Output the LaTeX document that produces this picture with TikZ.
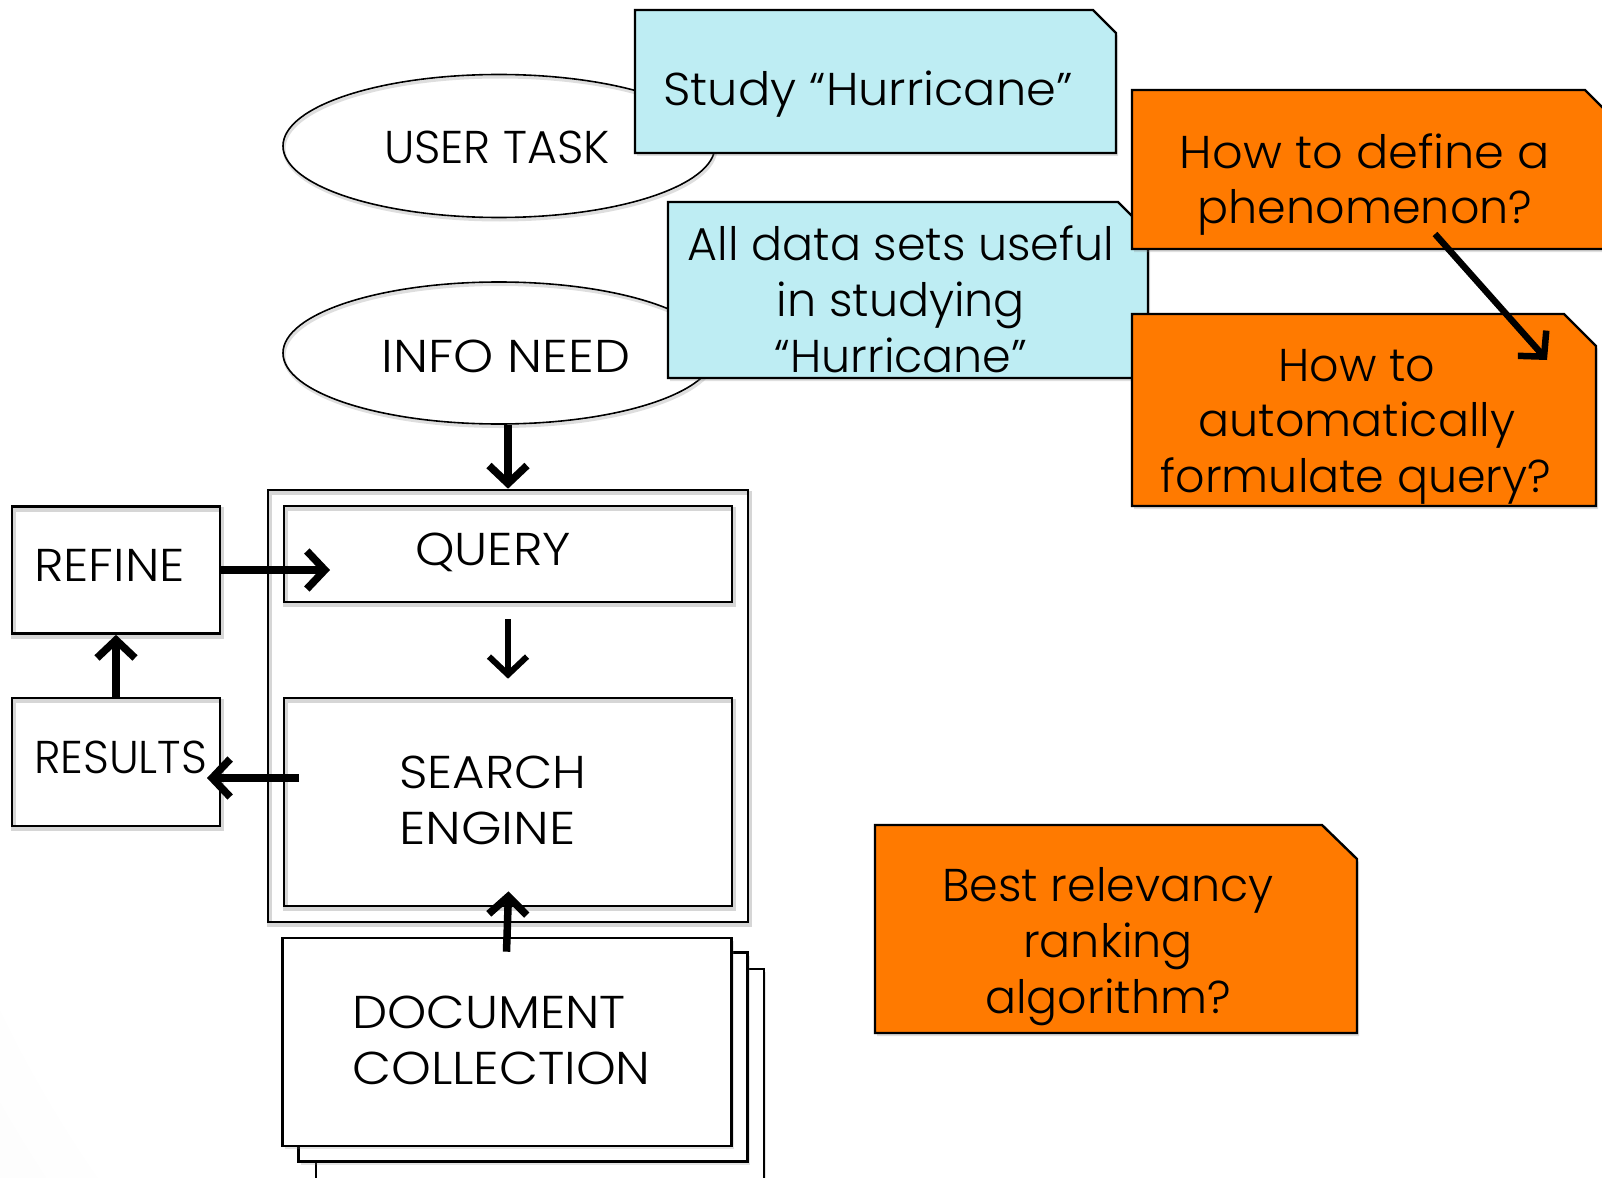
\documentclass[tikz,border=0pt]{standalone}
\usepackage{fontspec}
\IfFontExistsTF{Poppins Light}{\setmainfont{Poppins Light}}{\setmainfont{Poppins}}
\usetikzlibrary{shapes.geometric,arrows.meta,shadows}

\definecolor{noteblue}{RGB}{190,237,243}
\definecolor{noteorange}{RGB}{255,122,0}

% soft light-grey glow behind the diagram
\pgfdeclareradialshading{bgglow}{\pgfpoint{0bp}{0bp}}{%
  color(0bp)=(white); color(12bp)=(white); color(25bp)=(black!12); color(50bp)=(black!12)}

% widen a label horizontally
\newcommand{\wide}[2]{\scalebox{#1}[1]{#2}}

\tikzset{
  lineshadow/.style={preaction={draw=black, draw opacity=0.16, line width=4.5pt,
      transform canvas={xshift=1.5pt,yshift=-3pt}}},
  boxframe/.style={rectangle, draw, line width=2.6pt, inner sep=0pt, lineshadow},
  oval/.style={ellipse, draw, line width=1.6pt, inner sep=0pt,
      preaction={draw=black, draw opacity=0.13, line width=3pt,
      transform canvas={xshift=1pt,yshift=-2.5pt}}},
  sheet/.style={rectangle, draw, line width=2.6pt, inner sep=0pt, fill=white,
      drop shadow={shadow xshift=2pt, shadow yshift=-3pt, opacity=0.22}},
  note/.style={draw, line width=2.4pt, line join=miter,
      drop shadow={shadow xshift=2pt, shadow yshift=-3pt, opacity=0.25}},
  txt/.style={font=\fontsize{46}{56}\selectfont, inner sep=0pt, anchor=base},
  ltxt/.style={txt, anchor=base west},
  flowarrow/.style={line width=7.5pt, -{Straight Barb[length=18pt,width=38pt]}},
}

\begin{document}
\begin{tikzpicture}[x=1pt,y=-1pt]
\useasboundingbox (0,0) rectangle (1602,1177);

% background
\fill[white] (0,0) rectangle (1602,1177);
\begin{scope}
  \clip (0,0) rectangle (1602,1177);
  \shade[shading=bgglow] (1100,480) circle (2500pt);
\end{scope}

% task and need ellipses
\node[oval, minimum width=432pt, minimum height=143pt] (usertask) at (499,146) {};
\node[oval, minimum width=432pt, minimum height=142pt] (infoneed) at (499,353) {};
\node[txt] (usertask-text) at (497,164) {USER TASK};
\node[txt] (infoneed-text) at (506,372) {\wide{1.11}{INFO NEED}};

% blue notes
\path[note, fill=noteblue] (635,10) -- (1093,10) -- (1116,33) -- (1116,153) -- (635,153) -- cycle;
\node[txt] (study) at (868,106) {\wide{1.04}{Study “Hurricane”}};

\path[note, fill=noteblue] (668,202) -- (1118,202) -- (1148,232) -- (1148,378) -- (668,378) -- cycle;
\node[txt] (alldata1) at (901,260) {All data sets useful};
\node[txt] (alldata2) at (901,316) {in studying};
\node[txt] (alldata3) at (901,372) {“Hurricane”};

% orange questions
\path[note, fill=noteorange] (1132,90) -- (1585,90) -- (1616,121) -- (1616,249) -- (1132,249) -- cycle;
\node[txt] (define1) at (1365,168) {\wide{1.04}{How to define a}};
\node[txt] (define2) at (1365,223) {phenomenon?};

\path[note, fill=noteorange] (1132,314) -- (1564,314) -- (1596,346) -- (1596,506) -- (1132,506) -- cycle;
\node[txt] (formulate1) at (1357,381) {How to};
\node[txt] (formulate2) at (1357,436) {automatically};
\node[txt] (formulate3) at (1356,492) {formulate query?};

\path[note, fill=noteorange] (875,825) -- (1322,825) -- (1357,859) -- (1357,1033) -- (875,1033) -- cycle;
\node[txt] (ranking1) at (1108,901) {Best relevancy};
\node[txt] (ranking2) at (1108,957) {ranking};
\node[txt] (ranking3) at (1108,1013) {algorithm?};

% retrieval system
\node[boxframe, minimum width=480pt, minimum height=432pt] (outer) at (508,706) {};
\node[boxframe, minimum width=448pt, minimum height=96pt] (query) at (508,554) {};
\node[boxframe, minimum width=448pt, minimum height=208pt] (search) at (508,802) {};
\node[txt] (query-text) at (493,565) {\wide{1.09}{QUERY}};
\node[ltxt] (search-text1) at (399,788) {\wide{1.08}{SEARCH}};
\node[ltxt] (search-text2) at (399,844) {\wide{1.13}{ENGINE}};

\node[boxframe, minimum width=208pt, minimum height=127pt] (refine) at (116,570) {};
\node[boxframe, minimum width=208pt, minimum height=128pt] (results) at (116,762) {};
\node[ltxt] (refine-text) at (34,581) {\wide{1.09}{REFINE}};
\node[ltxt] (results-text) at (34,773) {\wide{0.98}{RESULTS}};

% stacked document collection
\node[sheet, minimum width=448pt, minimum height=232pt] (docback) at (540,1085) {};
\node[sheet, minimum width=449pt, minimum height=209pt] (docmid) at (523,1057) {};
\node[sheet, minimum width=449pt, minimum height=208pt] (docfront) at (507,1042) {};
\node[ltxt] (doc-text1) at (352,1028) {\wide{1.085}{DOCUMENT}};
\node[ltxt] (doc-text2) at (352,1084) {\wide{1.10}{COLLECTION}};

% connector ends inside boxes
\coordinate (qin) at (330,570);
\coordinate (seout) at (299,778);
\coordinate (resin) at (207,778);
\coordinate (phen) at (1435,234);
\coordinate (autoq) at (1547,360);

% flow arrows
\draw[flowarrow] (infoneed.south -| outer.north) -- (outer.north);
\draw[flowarrow] (refine.east) -- (qin);
\draw[flowarrow, line width=6pt, shorten <=16pt, shorten >=18pt] (query.south) -- (search.north);
\draw[flowarrow] (seout) -- (resin);
\draw[flowarrow] (results.north) -- (refine.south);
\draw[flowarrow, shorten <=-15pt, shorten >=-16pt] (docfront.north) -- (search.south);
\draw[flowarrow, line width=6.5pt] (phen) -- (autoq);
\end{tikzpicture}
\end{document}
